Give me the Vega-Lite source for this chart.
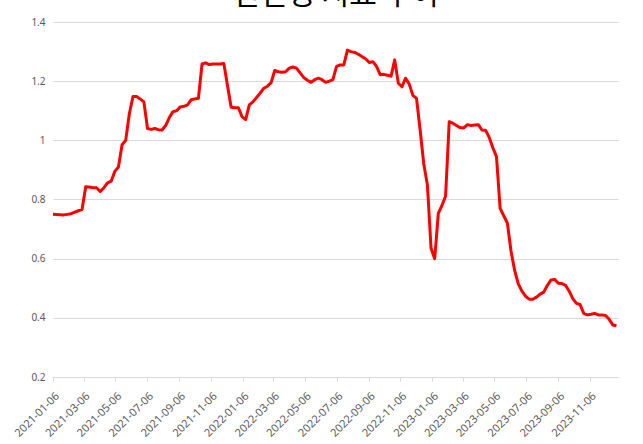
{
  "$schema": "https://vega.github.io/schema/vega-lite/v6.json",
  "width": 565,
  "height": 355,
  "autosize": {"type": "none"},
  "padding": {"left": 53, "top": 22, "right": 25, "bottom": 67},
  "background": "white",
  "title": {
    "text": "건전성 지표 추이",
    "font": "Noto Sans CJK KR",
    "fontSize": 30,
    "fontWeight": "normal",
    "color": "#000000",
    "anchor": "middle",
    "offset": 0,
    "dy": -7
  },
  "config": {"view": {"stroke": null}},
  "data": {
    "values": [
      {"date": "2021-01-06", "value": 0.75},
      {"date": "2021-01-27", "value": 0.748},
      {"date": "2021-02-10", "value": 0.752},
      {"date": "2021-02-24", "value": 0.762},
      {"date": "2021-03-03", "value": 0.767},
      {"date": "2021-03-10", "value": 0.843},
      {"date": "2021-03-17", "value": 0.842},
      {"date": "2021-03-24", "value": 0.84},
      {"date": "2021-03-31", "value": 0.84},
      {"date": "2021-04-07", "value": 0.827},
      {"date": "2021-04-14", "value": 0.84},
      {"date": "2021-04-21", "value": 0.856},
      {"date": "2021-04-28", "value": 0.862},
      {"date": "2021-05-05", "value": 0.895},
      {"date": "2021-05-12", "value": 0.91},
      {"date": "2021-05-19", "value": 0.985},
      {"date": "2021-05-26", "value": 1.0},
      {"date": "2021-06-02", "value": 1.09},
      {"date": "2021-06-09", "value": 1.148},
      {"date": "2021-06-16", "value": 1.148},
      {"date": "2021-06-23", "value": 1.14},
      {"date": "2021-06-30", "value": 1.13},
      {"date": "2021-07-07", "value": 1.04},
      {"date": "2021-07-14", "value": 1.037},
      {"date": "2021-07-21", "value": 1.04},
      {"date": "2021-07-28", "value": 1.036},
      {"date": "2021-08-04", "value": 1.035},
      {"date": "2021-08-11", "value": 1.05},
      {"date": "2021-08-18", "value": 1.077},
      {"date": "2021-08-25", "value": 1.097},
      {"date": "2021-09-01", "value": 1.1},
      {"date": "2021-09-08", "value": 1.113},
      {"date": "2021-09-15", "value": 1.115},
      {"date": "2021-09-22", "value": 1.12},
      {"date": "2021-09-29", "value": 1.137},
      {"date": "2021-10-06", "value": 1.14},
      {"date": "2021-10-13", "value": 1.142},
      {"date": "2021-10-20", "value": 1.258},
      {"date": "2021-10-27", "value": 1.262},
      {"date": "2021-11-03", "value": 1.256},
      {"date": "2021-11-10", "value": 1.258},
      {"date": "2021-11-17", "value": 1.258},
      {"date": "2021-11-24", "value": 1.258},
      {"date": "2021-12-01", "value": 1.26},
      {"date": "2021-12-08", "value": 1.185},
      {"date": "2021-12-15", "value": 1.112},
      {"date": "2021-12-22", "value": 1.11},
      {"date": "2021-12-29", "value": 1.11},
      {"date": "2022-01-05", "value": 1.08},
      {"date": "2022-01-12", "value": 1.07},
      {"date": "2022-01-19", "value": 1.12},
      {"date": "2022-01-26", "value": 1.13},
      {"date": "2022-02-02", "value": 1.145},
      {"date": "2022-02-09", "value": 1.16},
      {"date": "2022-02-16", "value": 1.176},
      {"date": "2022-02-23", "value": 1.183},
      {"date": "2022-03-02", "value": 1.195},
      {"date": "2022-03-09", "value": 1.236},
      {"date": "2022-03-16", "value": 1.232},
      {"date": "2022-03-23", "value": 1.23},
      {"date": "2022-03-30", "value": 1.232},
      {"date": "2022-04-06", "value": 1.244},
      {"date": "2022-04-13", "value": 1.248},
      {"date": "2022-04-20", "value": 1.244},
      {"date": "2022-04-27", "value": 1.228},
      {"date": "2022-05-04", "value": 1.212},
      {"date": "2022-05-11", "value": 1.203},
      {"date": "2022-05-18", "value": 1.196},
      {"date": "2022-05-25", "value": 1.205},
      {"date": "2022-06-01", "value": 1.21},
      {"date": "2022-06-08", "value": 1.205},
      {"date": "2022-06-15", "value": 1.196},
      {"date": "2022-06-22", "value": 1.2},
      {"date": "2022-06-29", "value": 1.205},
      {"date": "2022-07-06", "value": 1.25},
      {"date": "2022-07-13", "value": 1.255},
      {"date": "2022-07-20", "value": 1.255},
      {"date": "2022-07-27", "value": 1.305},
      {"date": "2022-08-03", "value": 1.3},
      {"date": "2022-08-10", "value": 1.297},
      {"date": "2022-08-17", "value": 1.291},
      {"date": "2022-08-24", "value": 1.283},
      {"date": "2022-08-31", "value": 1.276},
      {"date": "2022-09-07", "value": 1.263},
      {"date": "2022-09-14", "value": 1.266},
      {"date": "2022-09-21", "value": 1.25},
      {"date": "2022-09-28", "value": 1.222},
      {"date": "2022-10-05", "value": 1.223},
      {"date": "2022-10-12", "value": 1.22},
      {"date": "2022-10-19", "value": 1.217},
      {"date": "2022-10-26", "value": 1.272},
      {"date": "2022-11-02", "value": 1.193},
      {"date": "2022-11-09", "value": 1.181},
      {"date": "2022-11-16", "value": 1.21},
      {"date": "2022-11-23", "value": 1.19},
      {"date": "2022-11-30", "value": 1.152},
      {"date": "2022-12-07", "value": 1.142},
      {"date": "2022-12-14", "value": 1.035},
      {"date": "2022-12-21", "value": 0.92},
      {"date": "2022-12-28", "value": 0.849},
      {"date": "2023-01-04", "value": 0.635},
      {"date": "2023-01-11", "value": 0.6},
      {"date": "2023-01-18", "value": 0.753},
      {"date": "2023-01-25", "value": 0.78},
      {"date": "2023-02-01", "value": 0.812},
      {"date": "2023-02-08", "value": 1.063},
      {"date": "2023-02-15", "value": 1.058},
      {"date": "2023-02-22", "value": 1.05},
      {"date": "2023-03-01", "value": 1.043},
      {"date": "2023-03-08", "value": 1.042},
      {"date": "2023-03-15", "value": 1.053},
      {"date": "2023-03-22", "value": 1.05},
      {"date": "2023-03-29", "value": 1.052},
      {"date": "2023-04-05", "value": 1.053},
      {"date": "2023-04-12", "value": 1.035},
      {"date": "2023-04-19", "value": 1.034},
      {"date": "2023-04-26", "value": 1.01},
      {"date": "2023-05-03", "value": 0.975},
      {"date": "2023-05-10", "value": 0.945},
      {"date": "2023-05-17", "value": 0.77},
      {"date": "2023-05-24", "value": 0.745},
      {"date": "2023-05-31", "value": 0.72},
      {"date": "2023-06-07", "value": 0.625},
      {"date": "2023-06-14", "value": 0.56},
      {"date": "2023-06-21", "value": 0.515},
      {"date": "2023-06-28", "value": 0.49},
      {"date": "2023-07-05", "value": 0.473},
      {"date": "2023-07-12", "value": 0.463},
      {"date": "2023-07-19", "value": 0.463},
      {"date": "2023-07-26", "value": 0.47},
      {"date": "2023-08-02", "value": 0.48},
      {"date": "2023-08-09", "value": 0.487},
      {"date": "2023-08-16", "value": 0.51},
      {"date": "2023-08-23", "value": 0.528},
      {"date": "2023-08-30", "value": 0.53},
      {"date": "2023-09-06", "value": 0.517},
      {"date": "2023-09-13", "value": 0.516},
      {"date": "2023-09-20", "value": 0.51},
      {"date": "2023-09-27", "value": 0.49},
      {"date": "2023-10-04", "value": 0.465},
      {"date": "2023-10-11", "value": 0.449},
      {"date": "2023-10-18", "value": 0.445},
      {"date": "2023-10-25", "value": 0.415},
      {"date": "2023-11-01", "value": 0.41},
      {"date": "2023-11-08", "value": 0.412},
      {"date": "2023-11-15", "value": 0.415},
      {"date": "2023-11-22", "value": 0.41},
      {"date": "2023-11-29", "value": 0.41},
      {"date": "2023-12-06", "value": 0.408},
      {"date": "2023-12-13", "value": 0.395},
      {"date": "2023-12-20", "value": 0.376},
      {"date": "2023-12-27", "value": 0.373}
    ]
  },
  "mark": {"type": "line", "color": "#ff0000", "strokeWidth": 3, "strokeJoin": "round"},
  "encoding": {
    "x": {
      "field": "date",
      "type": "temporal",
      "scale": {
        "type": "utc",
        "domain": [
          {"year": 2021, "month": 1, "date": 6, "utc": true},
          {"year": 2023, "month": 12, "date": 30, "utc": true}
        ]
      },
      "axis": {
        "title": null,
        "values": [
          {"year": 2021, "month": 1, "date": 6, "utc": true},
          {"year": 2021, "month": 3, "date": 6, "utc": true},
          {"year": 2021, "month": 5, "date": 6, "utc": true},
          {"year": 2021, "month": 7, "date": 6, "utc": true},
          {"year": 2021, "month": 9, "date": 6, "utc": true},
          {"year": 2021, "month": 11, "date": 6, "utc": true},
          {"year": 2022, "month": 1, "date": 6, "utc": true},
          {"year": 2022, "month": 3, "date": 6, "utc": true},
          {"year": 2022, "month": 5, "date": 6, "utc": true},
          {"year": 2022, "month": 7, "date": 6, "utc": true},
          {"year": 2022, "month": 9, "date": 6, "utc": true},
          {"year": 2022, "month": 11, "date": 6, "utc": true},
          {"year": 2023, "month": 1, "date": 6, "utc": true},
          {"year": 2023, "month": 3, "date": 6, "utc": true},
          {"year": 2023, "month": 5, "date": 6, "utc": true},
          {"year": 2023, "month": 7, "date": 6, "utc": true},
          {"year": 2023, "month": 9, "date": 6, "utc": true},
          {"year": 2023, "month": 11, "date": 6, "utc": true}
        ],
        "labelExpr": "utcFormat(datum.value, '%Y-%m-%d')",
        "labelAngle": -45,
        "labelFont": "Noto Sans",
        "labelFontSize": 11,
        "labelColor": "#595959",
        "labelPadding": 9,
        "labelOverlap": false,
        "labelFlush": false,
        "domainColor": "#d9d9d9",
        "tickColor": "#d9d9d9",
        "tickSize": 4,
        "grid": false
      }
    },
    "y": {
      "field": "value",
      "type": "quantitative",
      "scale": {"domain": [0.2, 1.4], "nice": false, "zero": false},
      "axis": {
        "title": null,
        "values": [0.2, 0.4, 0.6, 0.8, 1.0, 1.2, 1.4],
        "format": "~g",
        "domain": false,
        "ticks": false,
        "gridColor": "#d9d9d9",
        "labelFont": "Noto Sans",
        "labelFontSize": 10,
        "labelColor": "#595959",
        "labelPadding": 8
      }
    }
  }
}
